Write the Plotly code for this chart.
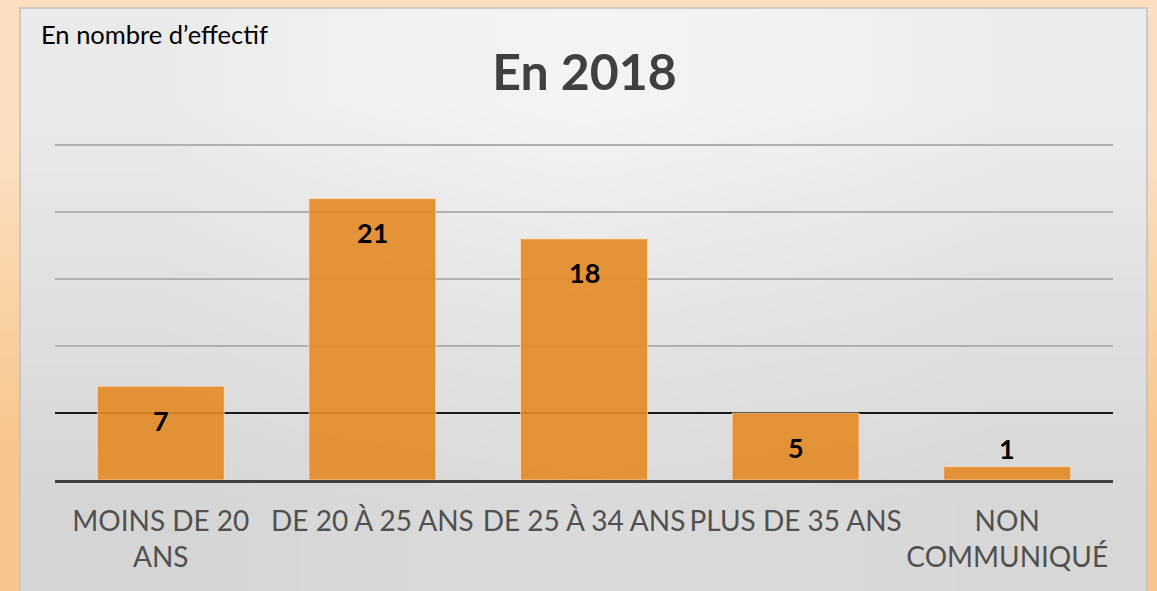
import plotly.graph_objects as go

# ---- data ----
categories = ["MOINS DE 20<br>ANS", "DE 20 À 25 ANS", "DE 25 À 34 ANS", "PLUS DE 35 ANS", "NON<br>COMMUNIQUÉ"]
values = [7, 21, 18, 5, 1]
title_text = "En 2018"
unit_text = "En nombre d’effectif"
grid_ticks = [10, 15, 20, 25]
dark_grid_ticks = [5]

W, H = 1157, 591
FONT = "Lato"

fig = go.Figure()

# outer peach background (vertical gradient)
fig.add_trace(go.Heatmap(
    x=[0, W], y=[0, H / 2, H], z=[[0], [1]],
    colorscale=[[0, "#fcdfc0"], [1, "#f7c68c"]], zmin=0, zmax=1,
    zsmooth="best", showscale=False, hoverinfo="skip",
    xaxis="x", yaxis="y"))

# inner grey panel (gradient, gray levels)
panel_x = [20, 300, 860, 1147]
panel_y = [8, 200, 400, 600]
panel_z = [[234, 244, 236],
           [224, 230, 224],
           [213, 218, 215]]
fig.add_trace(go.Heatmap(
    x=panel_x, y=panel_y, z=panel_z,
    colorscale=[[0, "black"], [1, "white"]], zmin=0, zmax=255,
    zsmooth="best", showscale=False, hoverinfo="skip",
    xaxis="x", yaxis="y"))

# bars
fig.add_trace(go.Bar(
    x=categories, y=values,
    marker=dict(color="#e48a25", opacity=0.9,
                line=dict(color="rgba(255,235,210,0.7)", width=1)),
    hoverinfo="x+y", xaxis="x2", yaxis="y2", showlegend=False))

# empty trace so the overlaid axis (dark gridline) gets drawn
fig.add_trace(go.Scatter(x=[categories[0]], y=[None], mode="markers",
                         xaxis="x2", yaxis="y3", showlegend=False, hoverinfo="skip"))

# data labels
annotations = []
for c, v in zip(categories, values):
    inside = v >= 3
    annotations.append(dict(
        x=c, y=v, xref="x2", yref="y2", text=f"<b>{v}</b>", showarrow=False,
        yshift=-34 if inside else 18,
        font=dict(family=FONT, size=27, color="#000000")))

annotations.append(dict(
    x=39, y=34, xref="x", yref="y", text=unit_text, showarrow=False,
    xanchor="left", yanchor="middle",
    font=dict(family=FONT, size=25.5, color="#000000")))

Y_MAX = 25.1
unit_px = (480 - 145) / 25
top_px = 480 - Y_MAX * unit_px
x_dom = [55 / W, 1113 / W]
y_dom = [(H - 480) / H, (H - top_px) / H]

fig.update_layout(
    width=W, height=H,
    margin=dict(l=0, r=0, t=0, b=0),
    paper_bgcolor="#f9d4a8",
    plot_bgcolor="rgba(0,0,0,0)",
    showlegend=False,
    bargap=0.4,
    title=dict(text=f"<b>{title_text}</b>", x=584.5 / W, y=1 - 72 / H,
               xanchor="center", yanchor="middle", xref="paper", yref="paper",
               font=dict(family=FONT, size=50, color="#404040")),
    xaxis=dict(domain=[0, 1], range=[0, W], visible=False, fixedrange=True),
    yaxis=dict(domain=[0, 1], range=[H, 0], visible=False, fixedrange=True),
    xaxis2=dict(domain=x_dom, anchor="y2", showgrid=False, zeroline=False,
                showline=True, linecolor="#404040", linewidth=3,
                ticks="", tickangle=0, ticklabelstandoff=14,
                tickfont=dict(family=FONT, size=28, color="#505050")),
    yaxis2=dict(domain=y_dom, anchor="x2", range=[0, Y_MAX],
                tickvals=grid_ticks, showticklabels=False, ticks="",
                showgrid=True, gridcolor="#b0b0b0", gridwidth=2,
                zeroline=False, showline=False),
    yaxis3=dict(domain=y_dom, anchor="x2", overlaying="y2", range=[0, Y_MAX],
                tickvals=dark_grid_ticks, showticklabels=False, ticks="",
                showgrid=True, gridcolor="#1a1a1a", gridwidth=2,
                zeroline=False, showline=False),
    shapes=[dict(type="rect", xref="x", yref="y", x0=20, y0=8, x1=1147, y1=600,
                 line=dict(color="#c0c0c0", width=1.5), fillcolor="rgba(0,0,0,0)",
                 layer="above")],
    annotations=annotations,
)

fig.write_html("out.html", config={"displayModeBar": False},
               post_script="document.body.style.margin='0';document.body.style.overflow='hidden';")
